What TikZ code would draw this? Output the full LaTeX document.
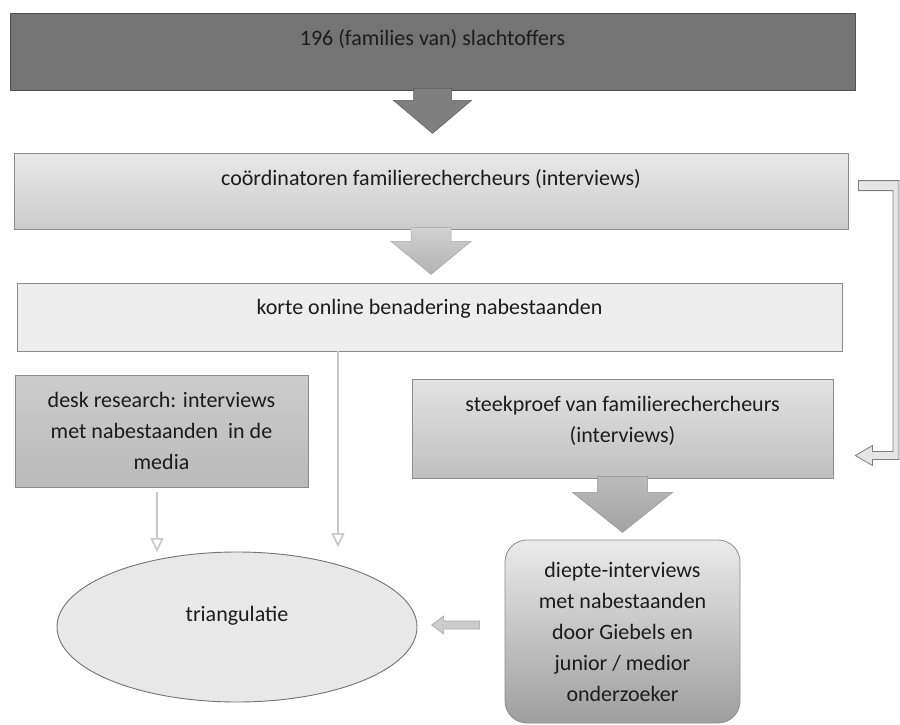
\documentclass[tikz,border=0pt]{standalone}
\usepackage{fontspec}
\setmainfont{Carlito}
\usetikzlibrary{calc,arrows.meta,shapes.geometric}
\definecolor{topgray}{HTML}{747474}
\definecolor{edgegray}{HTML}{8C8C8C}
\definecolor{txt}{HTML}{1C1C1C}
\newcommand{\blkarrow}[6]{%
  \path[#1] ($(#2)+(-#3,-2)$) -- ($(#2)+(-#3,#5)$) -- ($(#2)+(-#4,#5)$) --
    ($(#2)+(0,#6)$) -- ($(#2)+(#4,#5)$) -- ($(#2)+(#3,#5)$) -- ($(#2)+(#3,-2)$) -- cycle;}
\begin{document}
\begin{tikzpicture}[x=1pt,y=-1pt,
  font=\fontsize{22}{31}\selectfont, text=txt,
  box/.style={draw=edgegray, line width=0.8pt, inner sep=0pt, rectangle},
  onerow/.style={box, anchor=base},
  thinarr/.style={draw=black!22, line width=1.6pt, -{Triangle[open,length=14pt,width=13pt]}},
  bigarrA/.style={fill=topgray!92!white, draw=topgray!80!black, line width=0.5pt},
  bigarrB/.style={top color=black!18, bottom color=black!30, draw=black!35, line width=0.5pt},
  bigarrC/.style={top color=black!27, bottom color=black!36, draw=black!42, line width=0.5pt},
  smallarr/.style={fill=black!20, draw=black!35, line width=0.6pt},
  bracket/.style={fill=black!10, draw=black!50, line width=0.8pt}]
\useasboundingbox (0,0) rectangle (900,725);
\fill[white] (0,0) rectangle (900,725);

% boxes
\node[onerow, fill=topgray, draw=topgray!70!black, minimum width=845pt,
      text height=33pt, text depth=44pt] (top) at (432.5,46) {196 (families van) slachtoffers};
\node[onerow, top color=black!9, bottom color=black!20, minimum width=834pt,
      text height=32pt, text depth=44pt] (coord) at (431,185) {coördinatoren familierechercheurs (interviews)};
\node[onerow, fill=black!7, minimum width=825pt,
      text height=31pt, text depth=37pt] (online) at (429.5,314) {korte online benadering nabestaanden};
\node[box, top color=black!20, bottom color=black!27, minimum width=293pt, minimum height=112pt,
      align=center] (desk) at (161.5,431) {desk research: interviews\\met nabestaanden\ \ in de\\media};
\node[box, top color=black!11, bottom color=black!25, minimum width=421pt, minimum height=99pt,
      label={[align=center, yshift=8pt, name=steektext]center:steekproef van familierechercheurs\\(interviews)}]
      (steek) at (622.5,428.5) {};
\node[box, rounded corners=22pt, top color=black!8, bottom color=black!38, minimum width=235pt,
      minimum height=183pt, align=center] (diepte) at (622.5,631.5)
      {diepte-interviews\\met nabestaanden\\door Giebels en\\junior / medior\\onderzoeker};
\node[ellipse, draw=black!55, line width=0.9pt, fill=black!9, inner sep=0pt,
      minimum width=360pt, minimum height=150pt, text height=10pt, text depth=22pt]
      (tri) at (237,627) {triangulatie};

% big block arrows
\blkarrow{bigarrA}{top.south}{19}{39}{10}{43}
\blkarrow{bigarrB}{coord.south}{20}{40}{12}{45}
\blkarrow{bigarrC}{steek.south}{25}{50}{14}{54}

% thin arrows
\coordinate (t1e) at (157,552);
\coordinate (t2e) at (338,547);
\draw[thinarr] ($(desk.south -| t1e)+(0,5)$) -- (t1e);
\draw[thinarr] (online.south -| t2e) -- (t2e);

% small arrow from diepte to triangulatie
\coordinate (la) at ($(diepte.west)+(-25,-6.5)$);
\path[smallarr] (la) -- ++(0,-4) -- ++(-36,0) -- ++(0,-5) -- ++(-12,9) -- ++(12,9) -- ++(0,-5) -- ++(36,0) -- cycle;

% bracket arrow from coord to steekproef
\coordinate (bA) at ($(coord.north east)+(10,28)$);
\coordinate (bT) at ($(steek.east)+(22,27)$);
\coordinate (bR) at (899,0);
\path[bracket] (bA) -- (bA -| bR) -- ($(bT -| bR)+(0,4)$) -- ($(bT)+(17,4)$) -- ($(bT)+(17,10)$)
  -- (bT) -- ($(bT)+(17,-10)$) -- ($(bT)+(17,-4)$) -- ($(bT -| bR)+(-6,-4)$)
  -- ($(bA -| bR)+(-6,10)$) -- ($(bA)+(0,10)$) -- cycle;
\end{tikzpicture}
\end{document}
